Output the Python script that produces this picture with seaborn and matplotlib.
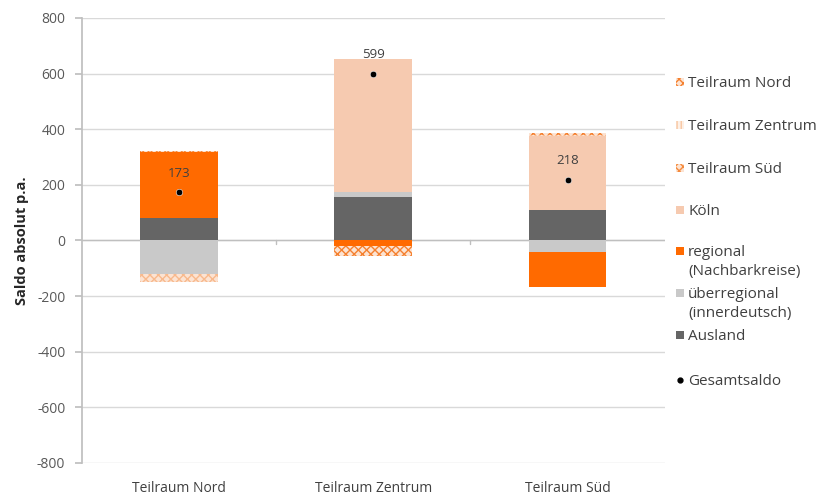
import matplotlib
matplotlib.use("Agg")
import matplotlib.pyplot as plt
from matplotlib.patches import Rectangle
import numpy as np
import seaborn as sns

# Categories and components of the migration balance (persons per year)
teilraeume = ["Teilraum Nord", "Teilraum Zentrum", "Teilraum Süd"]
ausland = [80, 155, 108]
ueberregional = [-122, 20, -42]
regional = [238, -20, -125]
koeln = [0, 479, 267]
tr_sued = [5, 0, 0]
tr_zentrum = [-28, 0, 5]
tr_nord = [0, -35, 5]
gesamtsaldo = [173, 599, 218]
y_ticks = [-800, -600, -400, -200, 0, 200, 400, 600, 800]

sns.set_theme(style="white")
plt.rcParams["font.family"] = ["Open Sans", "DejaVu Sans"]
plt.rcParams["hatch.linewidth"] = 1.0

W, H = 823, 498
fig = plt.figure(figsize=(W / 100, H / 100), dpi=100)
ax = fig.add_axes([0.0996, 0.0703, 0.708, 0.8936])

styles = {
    "Ausland": dict(facecolor="#656565"),
    "überregional\n(innerdeutsch)": dict(facecolor="#C9C9C9"),
    "regional\n(Nachbarkreise)": dict(facecolor="#FF6A00"),
    "Köln": dict(facecolor="#F6CAB0"),
    "Teilraum Süd": dict(facecolor="#FCE3D2", edgecolor="#F58A3C", hatch="xxxx"),
    "Teilraum Zentrum": dict(facecolor="#FCE3D2", edgecolor="#F8B98C", hatch="xxxx"),
    "Teilraum Nord": dict(facecolor="#FCE3D2", edgecolor="#F5802E", hatch="xxxx"),
}
series = [
    ("Ausland", ausland),
    ("überregional\n(innerdeutsch)", ueberregional),
    ("regional\n(Nachbarkreise)", regional),
    ("Köln", koeln),
    ("Teilraum Süd", tr_sued),
    ("Teilraum Zentrum", tr_zentrum),
    ("Teilraum Nord", tr_nord),
]

x = np.arange(len(teilraeume))
pos_base = np.zeros(len(x))
neg_base = np.zeros(len(x))
width = 0.4
for name, vals in series:
    vals = np.array(vals, dtype=float)
    bottoms = np.where(vals >= 0, pos_base, neg_base)
    ax.bar(x, vals, width=width, bottom=bottoms, linewidth=0, zorder=3, **styles[name])
    pos_base = pos_base + np.clip(vals, 0, None)
    neg_base = neg_base + np.clip(vals, None, 0)

# Total balance as dots with value labels
sns.scatterplot(x=x, y=gesamtsaldo, color="black", s=22, zorder=5, ax=ax, legend=False)
for xi, v in zip(x, gesamtsaldo):
    ax.annotate(f"{v}", (xi, v), xytext=(0, 9), textcoords="offset points",
                ha="center", va="bottom", fontsize=9.5, color="#404040", zorder=6)

ax.set_xlim(-0.5, 2.5)
ax.set_ylim(-800, 800)
ax.set_yticks(y_ticks)
ax.set_yticklabels([str(t) for t in y_ticks], fontsize=10, color="#595959")
ax.yaxis.grid(True, color="#D9D9D9", linewidth=1, zorder=0)
ax.set_axisbelow(True)
ax.tick_params(axis="y", length=5, color="#BFBFBF", pad=7, left=True)

for side in ["top", "right", "bottom"]:
    ax.spines[side].set_visible(False)
ax.spines["left"].set_color("#BFBFBF")

ax.axhline(0, color="#BFBFBF", linewidth=1, zorder=2)
for xb in [0.5, 1.5]:
    ax.plot([xb, xb], [0, -12], color="#BFBFBF", linewidth=1, zorder=2)

ax.set_xticks(x)
ax.set_xticklabels(teilraeume, fontsize=10, color="#404040")
ax.tick_params(axis="x", length=0, pad=13)

ax.set_ylabel("Saldo absolut p.a.", fontsize=10.5, fontweight="bold", color="#262626", labelpad=6)

# Legend on the right, entries in fixed slots
legend_entries = [
    ("Teilraum Nord", 82, dict(facecolor="#FCE3D2", edgecolor="#F5802E", hatch="xxxx")),
    ("Teilraum Zentrum", 125, dict(facecolor="#FDF0E6", edgecolor="#F8C7A3", hatch="||||")),
    ("Teilraum Süd", 168, dict(facecolor="#FCE3D2", edgecolor="#F58A3C", hatch="xxxx")),
    ("Köln", 210, dict(facecolor="#F6CAB0")),
    ("regional\n(Nachbarkreise)", 251, dict(facecolor="#FF6A00")),
    ("überregional\n(innerdeutsch)", 293, dict(facecolor="#C9C9C9")),
    ("Ausland", 335, dict(facecolor="#656565")),
]
sq = 8
for label, ypix, st in legend_entries:
    fig.add_artist(Rectangle((676 / W, 1 - (ypix + sq / 2) / H), sq / W, sq / H,
                             transform=fig.transFigure, linewidth=0, **st))
    fig.text(688 / W, 1 - (ypix - 6) / H, label, fontsize=11, color="#404040",
             ha="left", va="top", linespacing=1.35)
fig.add_artist(plt.Line2D([680 / W], [1 - 380 / H], marker="o", markersize=3.5,
                          color="black", transform=fig.transFigure))
fig.text(688 / W, 1 - (380 - 6) / H, "Gesamtsaldo", fontsize=11, color="#404040",
         ha="left", va="top")

fig.savefig("out.png", dpi=100)
